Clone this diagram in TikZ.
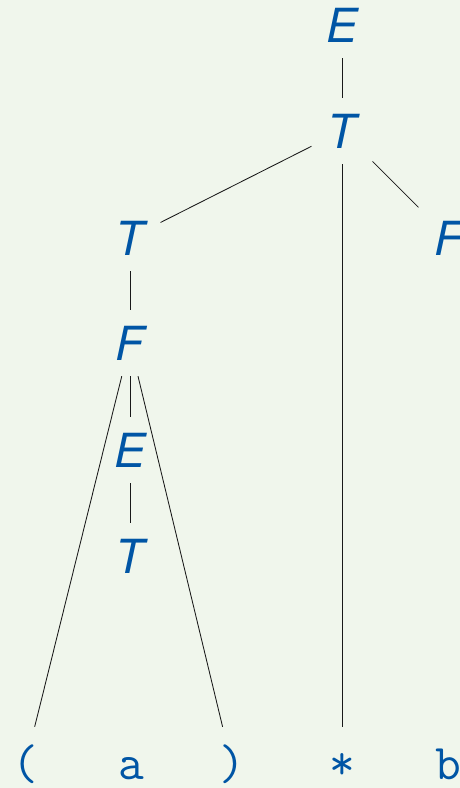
\documentclass[tikz,border=0pt]{standalone}
\usepackage{fontspec}
\setmainfont{TeX Gyre Heros}
\definecolor{bg}{RGB}{240,246,236}
\definecolor{sym}{RGB}{0,85,165}
\begin{document}
\begin{tikzpicture}[x=1pt,y=-1pt,
  nt/.style={font=\fontsize{47}{47}\selectfont\itshape, text=sym, inner xsep=16pt, inner ysep=16pt, anchor=base},
  term/.style={font=\ttfamily\fontsize{50}{50}\selectfont, text=sym, text height=34pt, text depth=8pt, inner xsep=14pt, inner ysep=18pt, anchor=base},
  edge/.style={draw=black!90, line width=0.85pt}]
\fill[bg] (0,0) rectangle (460,788);
\useasboundingbox (0,0) rectangle (460,788);
\node[nt] (E1) at (342,42) {E};
\node[nt] (T1) at (342,148) {T};
\node[nt] (T2) at (130,255) {T};
\node[nt] (F2) at (449,255) {F};
\node[nt] (F1) at (130,360) {F};
\node[nt] (E2) at (130,467) {E};
\node[nt] (T3) at (130,573) {T};
\node[term] (lp) at (25,779) {(};
\node[term] (a) at (131,779) {a};
\node[term] (rp) at (232,779) {)};
\node[term] (st) at (342,779) {*};
\node[term] (b) at (448,779) {b};
\draw[edge] (E1) -- (T1);
\draw[edge] (T1) -- (T2);
\draw[edge] (T1) -- (st);
\draw[edge] (T1) -- (F2);
\draw[edge] (T2) -- (F1);
\draw[edge] (F1) -- (lp);
\draw[edge] (F1) -- (E2);
\draw[edge] (F1) -- (rp);
\draw[edge] (E2) -- (T3);
\end{tikzpicture}
\end{document}
